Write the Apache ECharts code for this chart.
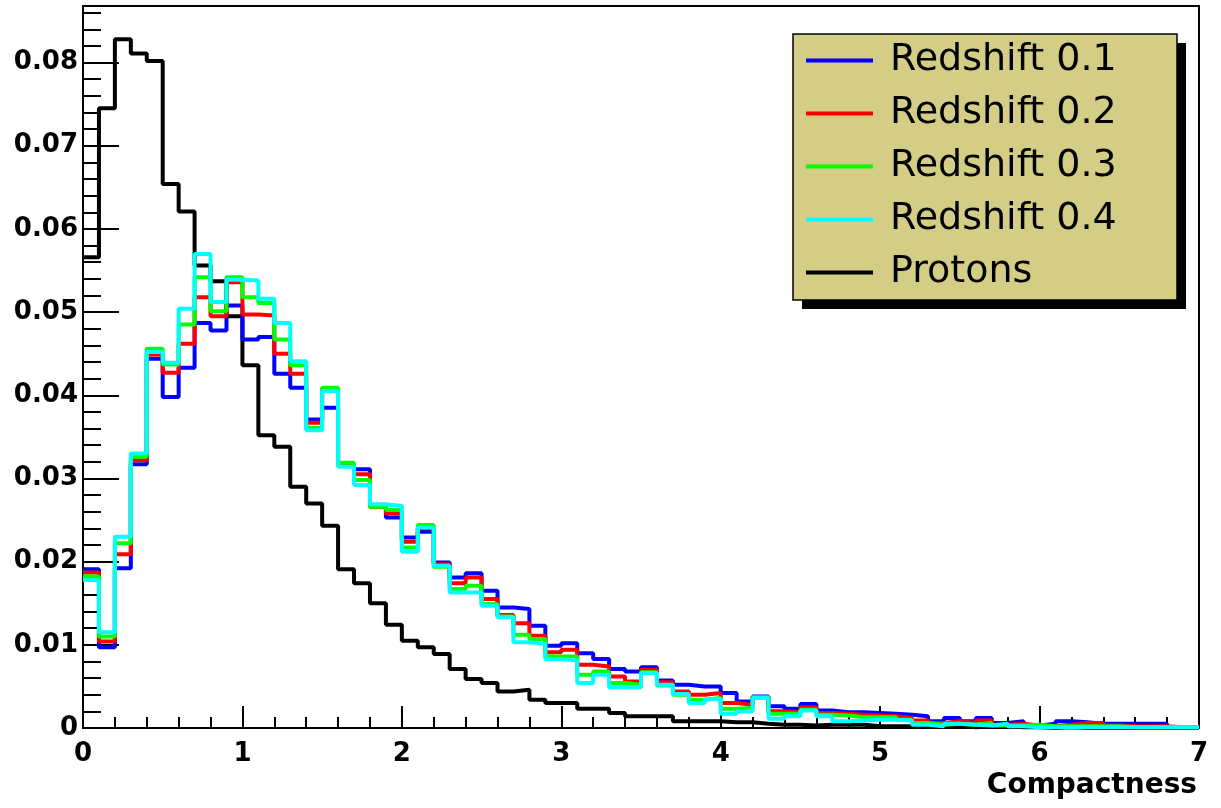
<!DOCTYPE html>
<html>
<head>
<meta charset="utf-8">
<script src="https://cdn.jsdelivr.net/npm/echarts@6/dist/echarts.min.js"></script>
<style>
html, body { margin: 0; padding: 0; background: #fff; }
#main { width: 1221px; height: 808px; }
</style>
</head>
<body>
<div id="main"></div>
<script>
// 70 bins of 0.1 from 0 to 7
var binWidth = 0.1;
var xMax = 7;
var yMax = 0.0868;

var redshift01 = [0.0191,0.0097,0.0192,0.0317,0.0444,0.0398,0.0433,0.0487,0.0478,0.0508,
                  0.0467,0.0470,0.0426,0.0409,0.0371,0.0385,0.0317,0.0311,0.0266,0.0253,
                  0.0229,0.0236,0.0199,0.0181,0.0186,0.0165,0.0145,0.0143,0.0123,0.0099,
                  0.0102,0.0090,0.0083,0.0071,0.0068,0.0073,0.0057,0.0052,0.0050,0.0050,
                  0.0042,0.0032,0.0038,0.0026,0.0023,0.0029,0.0021,0.0019,0.0019,0.0018,
                  0.0017,0.0016,0.0014,0.0008,0.0012,0.0008,0.0012,0.0006,0.0008,0.0003,
                  0.0005,0.0008,0.0007,0.0005,0.0005,0.0005,0.0005,0.0005,0.0001,0.0001];
var redshift02 = [0.0187,0.0104,0.0209,0.0322,0.0449,0.0427,0.0462,0.0518,0.0495,0.0536,
                  0.0497,0.0496,0.0450,0.0426,0.0367,0.0405,0.0316,0.0305,0.0266,0.0258,
                  0.0224,0.0240,0.0197,0.0174,0.0181,0.0155,0.0136,0.0126,0.0111,0.0091,
                  0.0094,0.0076,0.0074,0.0062,0.0056,0.0070,0.0055,0.0044,0.0040,0.0042,
                  0.0030,0.0028,0.0037,0.0020,0.0019,0.0025,0.0018,0.0017,0.0016,0.0015,
                  0.0014,0.0012,0.0009,0.0006,0.0008,0.0006,0.0009,0.0004,0.0005,0.0003,
                  0.0002,0.0004,0.0006,0.0006,0.0003,0.0002,0.0002,0.0002,0.0001,0.0001];
var redshift03 = [0.0182,0.0110,0.0222,0.0326,0.0456,0.0437,0.0485,0.0542,0.0501,0.0542,
                  0.0518,0.0511,0.0467,0.0436,0.0361,0.0409,0.0319,0.0298,0.0266,0.0262,
                  0.0217,0.0244,0.0194,0.0167,0.0171,0.0149,0.0134,0.0112,0.0107,0.0086,
                  0.0086,0.0064,0.0068,0.0054,0.0052,0.0067,0.0051,0.0040,0.0034,0.0036,
                  0.0023,0.0024,0.0037,0.0017,0.0017,0.0022,0.0016,0.0015,0.0013,0.0013,
                  0.0013,0.0010,0.0006,0.0004,0.0005,0.0004,0.0006,0.0003,0.0003,0.0004,
                  0.0002,0.0002,0.0002,0.0002,0.0002,0.0001,0.0001,0.0001,0.0001,0.0001];
var redshift04 = [0.0178,0.0115,0.0230,0.0330,0.0452,0.0439,0.0504,0.0570,0.0512,0.0539,
                  0.0538,0.0516,0.0487,0.0441,0.0358,0.0405,0.0314,0.0292,0.0269,0.0267,
                  0.0212,0.0241,0.0195,0.0163,0.0163,0.0147,0.0133,0.0103,0.0101,0.0083,
                  0.0081,0.0054,0.0064,0.0049,0.0049,0.0066,0.0052,0.0041,0.0030,0.0035,
                  0.0017,0.0020,0.0036,0.0011,0.0014,0.0021,0.0014,0.0008,0.0009,0.0010,
                  0.0010,0.0009,0.0004,0.0002,0.0005,0.0004,0.0003,0.0005,0.0002,0.0001,
                  0.0001,0.0001,0.0001,0.0001,0.0001,0.0001,0.0001,0.0001,0.0001,0.0001];
var protons = [0.0566,0.0745,0.0828,0.0811,0.0802,0.0654,0.0621,0.0556,0.0537,0.0495,
               0.0436,0.0352,0.0338,0.0290,0.0270,0.0243,0.0191,0.0174,0.0150,0.0124,
               0.0105,0.0097,0.0089,0.0071,0.0059,0.0054,0.0044,0.0046,0.0034,0.0030,
               0.0030,0.0023,0.0023,0.0018,0.0014,0.0014,0.0014,0.0008,0.0008,0.0008,
               0.0007,0.0007,0.0005,0.0004,0.0004,0.0003,0.0004,0.0004,0.0004,0.0002,
               0.0002,0.0002,0.0002,0.0003,0.0003,0.0001,0.0002,0.0002,0.0001,0.0001,
               0,0.0001,0,0,0,0,0,0,0,0];

var legendNames = ['Redshift 0.1', 'Redshift 0.2', 'Redshift 0.3', 'Redshift 0.4', 'Protons'];

// bin contents -> points at the bin edges, drawn as a step line
function toSteps(vals) {
    var pts = [];
    for (var i = 0; i < vals.length; i++) {
        pts.push([+(i * binWidth).toFixed(1), vals[i]]);
    }
    pts.push([+(vals.length * binWidth).toFixed(1), vals[vals.length - 1]]);
    return pts;
}

function histo(name, vals, color) {
    return {
        name: name,
        type: 'line',
        step: 'end',
        showSymbol: false,
        symbol: 'none',
        data: toSteps(vals),
        lineStyle: { color: color, width: 4 },
        itemStyle: { color: color }
    };
}

var font = 'DejaVu Sans';
var tickStyle = { color: '#000', width: 2 };
var myChart = echarts.init(document.getElementById('main'));
myChart.setOption({
    animation: false,
    grid: {
        left: 83, right: 22, top: 6, bottom: 80,
        show: true, borderColor: '#000', borderWidth: 2, backgroundColor: '#fff'
    },
    graphic: [
        { type: 'rect', z: 5, shape: { x: 802, y: 43, width: 384, height: 266 }, style: { fill: '#000' } },
        { type: 'rect', z: 5, shape: { x: 793, y: 34, width: 384, height: 266 },
          style: { fill: '#d3cd85', stroke: '#000', lineWidth: 1.5 } }
    ],
    legend: {
        data: legendNames,
        orient: 'vertical',
        left: 806,
        top: 34,
        padding: 0,
        itemGap: 0,
        itemWidth: 67,
        itemHeight: 4,
        icon: 'rect',
        z: 10,
        textStyle: {
            fontFamily: font, fontSize: 38, color: '#000',
            lineHeight: 53, padding: [0, 0, 0, 12]
        }
    },
    xAxis: [
        {
            type: 'value', position: 'bottom', min: 0, max: xMax, interval: 1,
            axisLine: { show: true, onZero: false, lineStyle: tickStyle },
            axisTick: { inside: true, length: 22, lineStyle: tickStyle },
            axisLabel: { margin: 13, fontFamily: font, fontWeight: 'bold', fontSize: 26, color: '#000' },
            splitLine: { show: false },
            name: 'Compactness',
            nameLocation: 'end',
            nameGap: -2,
            nameTextStyle: {
                fontFamily: font, fontWeight: 'bold', fontSize: 28, color: '#000',
                align: 'right', verticalAlign: 'top', padding: [44, 0, 0, 0]
            }
        },
        {
            type: 'value', position: 'bottom', min: 0, max: xMax, interval: 0.2,
            axisLine: { show: false, onZero: false },
            axisTick: { inside: true, length: 11, lineStyle: tickStyle },
            axisLabel: { show: false },
            splitLine: { show: false }
        }
    ],
    yAxis: [
        {
            type: 'value', position: 'left', min: 0, max: yMax, interval: 0.01,
            axisLine: { show: true, onZero: false, lineStyle: tickStyle },
            axisTick: { inside: true, length: 36, lineStyle: tickStyle },
            axisLabel: { margin: 5, showMaxLabel: false, fontFamily: font, fontWeight: 'bold', fontSize: 26, color: '#000' },
            splitLine: { show: false }
        },
        {
            type: 'value', position: 'left', min: 0, max: yMax, interval: 0.002,
            axisLine: { show: false, onZero: false },
            axisTick: { inside: true, length: 18, lineStyle: tickStyle },
            axisLabel: { show: false },
            splitLine: { show: false }
        }
    ],
    series: [
        histo('Protons', protons, '#000000'),
        histo('Redshift 0.1', redshift01, '#0000ff'),
        histo('Redshift 0.2', redshift02, '#ff0000'),
        histo('Redshift 0.3', redshift03, '#00ff00'),
        histo('Redshift 0.4', redshift04, '#00ffff')
    ]
});
</script>
</body>
</html>
